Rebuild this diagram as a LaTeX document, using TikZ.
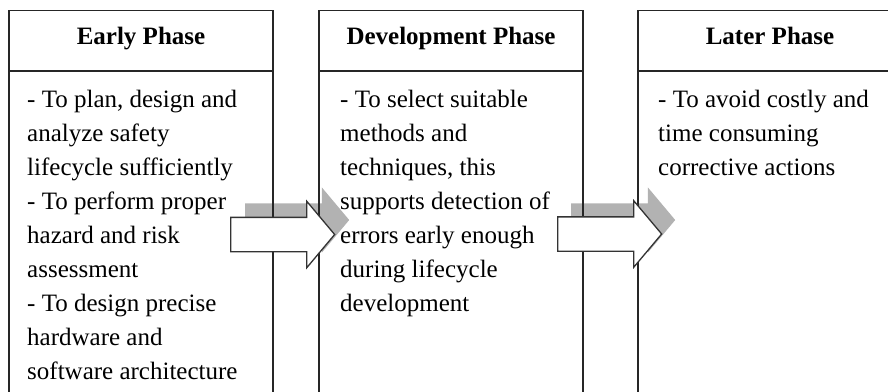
\documentclass[tikz,border=0pt]{standalone}
\usepackage{fontspec}
\setmainfont{Liberation Serif}
\usetikzlibrary{positioning, shapes.arrows}

\begin{document}
\begin{tikzpicture}[
    x=1pt, y=-1pt,
    phasehead/.style={rectangle, draw=black!85, line width=1.4pt, outer sep=0pt, inner sep=0pt, minimum width=264pt, minimum height=60.5pt, text height=17pt, text depth=8.6pt, font=\fontsize{25}{34}\selectfont\bfseries},
    phasebody/.style={rectangle, draw=black!85, line width=1.4pt, outer sep=0pt, inner sep=0pt, minimum width=264pt, minimum height=340pt},
    phasetext/.style={anchor=north west, align=left, inner sep=0pt, font=\fontsize{25}{34}\selectfont},
    flowshape/.style={single arrow, anchor=tail, inner sep=0pt, minimum height=104pt, text height=16.5pt, text depth=16.5pt, single arrow head extend=16pt, single arrow tip angle=100},
    flow/.style={flowshape, draw=black!80, fill=white, line width=1.3pt},
    flowshade/.style={flowshape, fill=black!30}
]
\useasboundingbox (0,0) rectangle (888,391);
\clip (0,0) rectangle (888,391);

% shadows of the block arrows sit behind the boxes
\node[flowshade] (shadeA) at (245,220) {};
\node[flowshade] (shadeB) at (571,220) {};

\node[phasehead] (early) at (141,40.75) {Early Phase};
\node[phasehead, right=46pt of early] (dev) {Development Phase};
\node[phasehead, right=55pt of dev] (later) {Later Phase};

\node[phasebody, below=0pt of early] (earlybody) {};
\node[phasebody, below=0pt of dev] (devbody) {};
\node[phasebody, below=0pt of later] (laterbody) {};

\node[phasetext, below right=19pt and 18pt of early.south west] (earlytext) {- To plan, design and\\analyze safety\\lifecycle sufficiently\\- To perform proper\\hazard and risk\\assessment\\- To design precise\\hardware and\\software architecture};
\node[phasetext, below right=19pt and 21pt of dev.south west] (devtext) {- To select suitable\\methods and\\techniques, this\\supports detection of\\errors early enough\\during lifecycle\\development};
\node[phasetext, below right=19pt and 20pt of later.south west] (latertext) {- To avoid costly and\\time consuming\\corrective actions};

% block arrows between the phases
\node[flow] (earlytodev) at (230,234.5) {};
\node[flow] (devtolater) at (557,234) {};

\end{tikzpicture}
\end{document}
